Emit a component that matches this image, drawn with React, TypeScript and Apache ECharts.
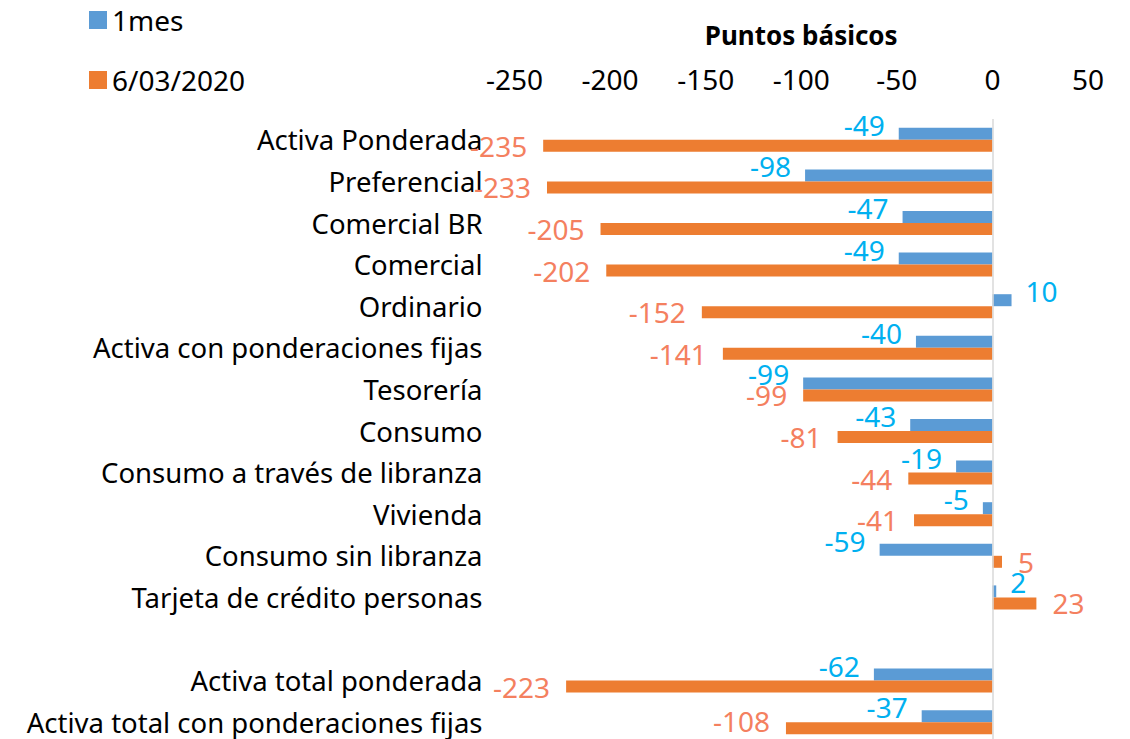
import React, { useEffect, useRef } from "react";
import * as echarts from "echarts";

const categories = [
  "Activa Ponderada",
  "Preferencial",
  "Comercial BR",
  "Comercial",
  "Ordinario",
  "Activa con ponderaciones fijas",
  "Tesorería",
  "Consumo",
  "Consumo a través de libranza",
  "Vivienda",
  "Consumo sin libranza",
  "Tarjeta de crédito personas",
  "",
  "Activa total ponderada",
  "Activa total con ponderaciones fijas",
];

const seriesNames = ["1mes", "6/03/2020"];
const values1mes = [-49, -98, -47, -49, 10, -40, -99, -43, -19, -5, -59, 2, null, -62, -37];
const valuesMarzo = [-235, -233, -205, -202, -152, -141, -99, -81, -44, -41, 5, 23, null, -223, -108];

const xTicks = { min: -250, max: 50, interval: 50 };
const axisTitle = "Puntos básicos";

const FONT = "'Noto Sans', 'Open Sans', sans-serif";
const VIEW_H = 739;

function buildData(vals: (number | null)[]) {
  return vals.map((v) =>
    v === null
      ? { value: null, label: { show: false } }
      : { value: v, label: { position: v < 0 ? "left" : "right" } }
  );
}

function keepInside(params: any) {
  const r = params.labelRect;
  if (r && r.y + r.height > VIEW_H - 2) {
    return {
      x: r.x + r.width,
      y: VIEW_H - 4 - r.height / 2,
      align: "right",
      verticalAlign: "middle",
    };
  }
  return {};
}

export default function App() {
  const ref = useRef<HTMLDivElement>(null);
  useEffect(() => {
    if (!ref.current) return;
    const chart = echarts.init(ref.current, null, { renderer: "svg" });
    chart.setOption({
      animation: false,
      backgroundColor: "#ffffff",
      textStyle: { fontFamily: FONT },
      legend: {
        orient: "vertical",
        left: 84,
        top: 1,
        itemWidth: 18,
        itemHeight: 18,
        itemGap: 32,
        icon: "rect",
        textStyle: { fontSize: 28, lineHeight: 28, color: "#000", fontFamily: FONT },
        data: seriesNames,
      },
      grid: { left: 514.5, right: 42, top: 119, height: 624 },
      xAxis: {
        type: "value",
        position: "top",
        min: xTicks.min,
        max: xTicks.max,
        interval: xTicks.interval,
        name: axisTitle,
        nameLocation: "middle",
        nameGap: 71,
        nameTextStyle: { fontSize: 26, fontWeight: "bold", color: "#000", fontFamily: FONT },
        axisLine: { show: false },
        axisTick: { show: false },
        splitLine: { show: false },
        axisLabel: { fontSize: 28, color: "#000", margin: 26, fontFamily: FONT },
      },
      yAxis: {
        type: "category",
        inverse: true,
        data: categories,
        axisLine: { show: false },
        axisTick: { show: false },
        splitLine: { show: false },
        axisLabel: { fontSize: 27.5, color: "#000", margin: 32, fontFamily: FONT },
      },
      series: [
        {
          name: seriesNames[0],
          type: "bar",
          barWidth: 12,
          barGap: "0%",
          itemStyle: { color: "#5B9BD5" },
          label: {
            show: true,
            fontSize: 28,
            color: "#00B0F0",
            distance: 14,
            offset: [0, -9],
            fontFamily: FONT,
          },
          data: buildData(values1mes),
          markLine: {
            silent: true,
            symbol: "none",
            label: { show: false },
            lineStyle: { color: "#D9D9D9", type: "solid", width: 1.5 },
            data: [{ xAxis: 0 }],
          },
        },
        {
          name: seriesNames[1],
          type: "bar",
          barWidth: 12,
          barGap: "0%",
          itemStyle: { color: "#ED7D31" },
          label: {
            show: true,
            fontSize: 28,
            color: "#F4805F",
            distance: 16,
            offset: [0, 1],
            fontFamily: FONT,
          },
          labelLayout: keepInside,
          data: buildData(valuesMarzo),
        },
      ],
    });
    return () => chart.dispose();
  }, []);
  return (
    <div
      ref={ref}
      style={{ position: "fixed", left: 0, top: 0, width: 1130, height: 760, background: "#fff" }}
    />
  );
}
